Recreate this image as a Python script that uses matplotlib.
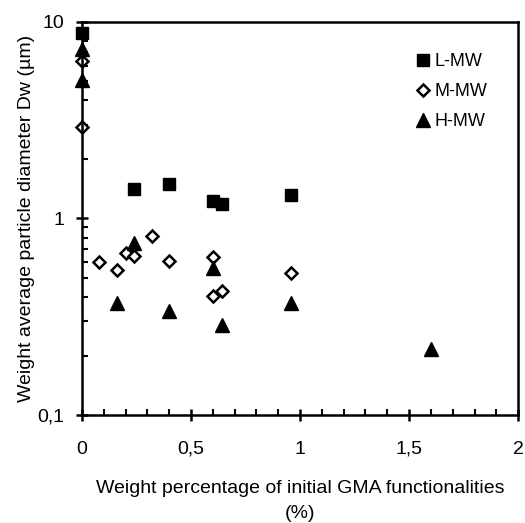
import numpy as np
import matplotlib
matplotlib.use("Agg")
import matplotlib.pyplot as plt
from matplotlib.ticker import FixedLocator, MultipleLocator, FuncFormatter, LogLocator

plt.rcParams['font.family'] = ['Liberation Sans', 'DejaVu Sans']

# L-MW
l_x = [0, 0.24, 0.4, 0.6, 0.64, 0.96]
l_y = [8.8, 1.42, 1.49, 1.23, 1.18, 1.32]
# M-MW
m_x = [0, 0, 0.08, 0.16, 0.2, 0.24, 0.32, 0.4, 0.6, 0.6, 0.64, 0.96]
m_y = [6.35, 2.93, 0.60, 0.55, 0.67, 0.645, 0.81, 0.605, 0.635, 0.404, 0.428, 0.526]
# H-MW
h_x = [0, 0, 0.16, 0.24, 0.4, 0.6, 0.64, 0.96, 1.6]
h_y = [7.26, 5.07, 0.37, 0.75, 0.34, 0.558, 0.287, 0.37, 0.216]

x_ticks = [0, 0.5, 1, 1.5, 2]
y_ticks = [0.1, 1, 10]


def comma(v, pos):
    s = ('%g' % v).replace('.', ',')
    return s


fig = plt.figure(figsize=(5.25, 5.23), dpi=100)
ax = fig.add_axes([0.156, 0.2065, 0.831, 0.7515])

ax.plot(l_x, l_y, 's', color='black', markersize=9, label='L-MW', clip_on=False)
ax.plot(m_x, m_y, 'D', markerfacecolor='white', markeredgecolor='black',
        markeredgewidth=1.8, markersize=6.5, label='M-MW', clip_on=False)
ax.plot(h_x, h_y, '^', color='black', markersize=10, label='H-MW', clip_on=False)

ax.set_yscale('log')
ax.set_xlim(0, 2)
ax.set_ylim(0.1, 10)

ax.xaxis.set_major_locator(FixedLocator(x_ticks))
ax.xaxis.set_minor_locator(MultipleLocator(0.1))
ax.yaxis.set_major_locator(FixedLocator(y_ticks))
ax.yaxis.set_minor_locator(LogLocator(base=10, subs=np.arange(2, 10)))
ax.xaxis.set_major_formatter(FuncFormatter(comma))
ax.yaxis.set_major_formatter(FuncFormatter(comma))
ax.yaxis.set_minor_formatter(FuncFormatter(lambda v, p: ''))

for s in ax.spines.values():
    s.set_linewidth(1.8)
ax.tick_params(which='major', direction='inout', length=9, width=1.8,
               labelsize=14, pad=8)
ax.tick_params(axis='x', which='major', pad=14)
ax.tick_params(which='minor', direction='in', length=4, width=1.5)

ax.set_xlabel('Weight percentage of initial GMA functionalities\n(%)',
              fontsize=14, labelpad=16, linespacing=1.6)
ax.set_ylabel('Weight average particle diameter Dw (µm)', fontsize=14)
ax.yaxis.set_label_coords(-0.108, 0.5)

ax.legend(loc='upper right', bbox_to_anchor=(0.962, 0.958), frameon=False,
          fontsize=13, handletextpad=0.05, labelspacing=0.72, handlelength=1.2,
          borderpad=0.3)

fig.savefig('out.png', dpi=100)
